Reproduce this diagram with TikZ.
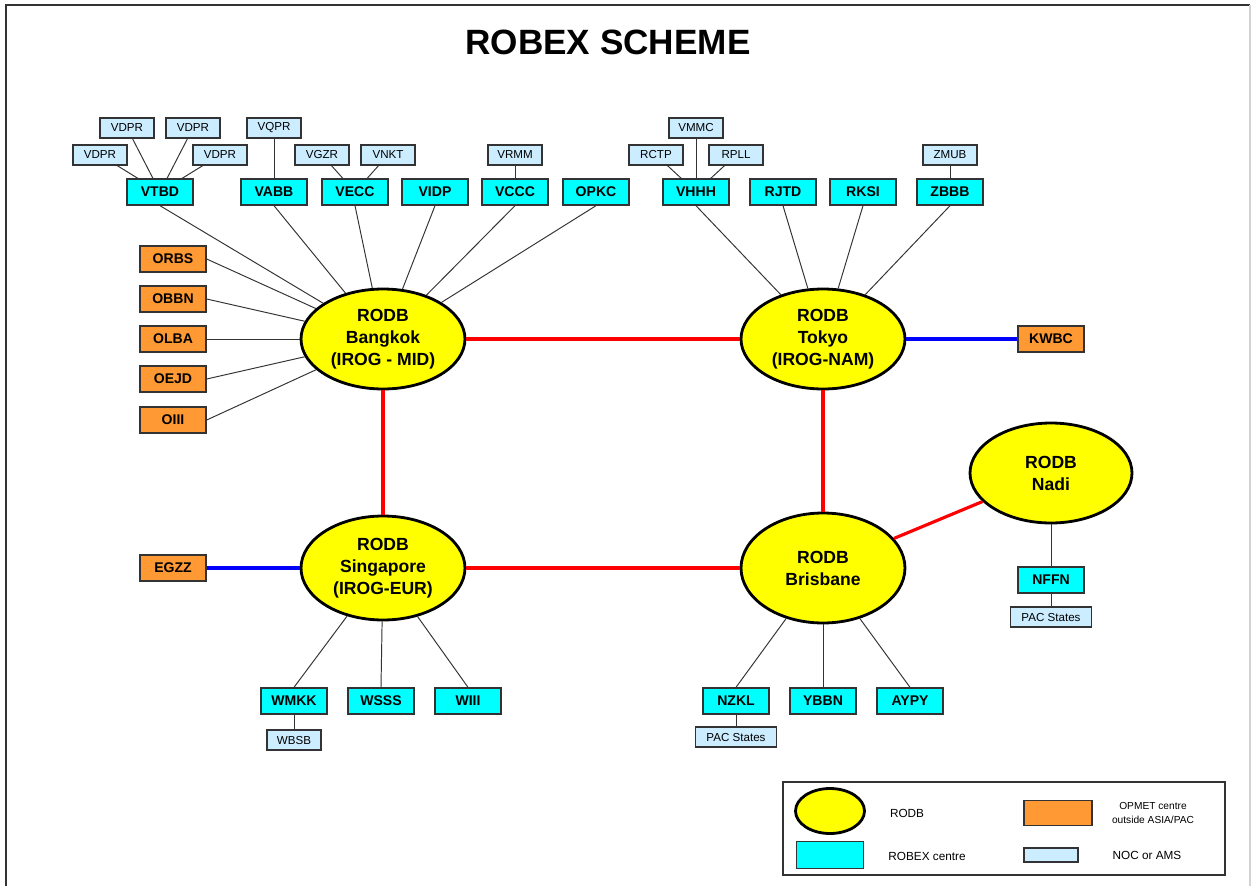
\documentclass[tikz,border=0pt]{standalone}
\usepackage{fontspec}
\setmainfont{Liberation Sans}
\usetikzlibrary{shapes.geometric}
\definecolor{rodbyellow}{RGB}{255,255,0}
\definecolor{robexcyan}{RGB}{0,255,255}
\definecolor{opmetorange}{RGB}{255,153,51}
\definecolor{nocblue}{RGB}{204,236,255}
\definecolor{edgegray}{RGB}{51,51,51}
\begin{document}
\begin{tikzpicture}[x=0.02cm,y=-0.02cm,
  rodb/.style={ellipse,draw=black,line width=1.6pt,fill=rodbyellow,minimum width=3.28cm,minimum height=2cm,inner sep=0pt,align=center,font=\fontsize{10}{12.5}\selectfont\bfseries},
  robex/.style={rectangle,draw=edgegray,line width=0.8pt,fill=robexcyan,minimum width=1.32cm,minimum height=0.52cm,inner sep=0pt,font=\fontsize{8}{9}\selectfont\bfseries},
  opmet/.style={robex,fill=opmetorange},
  noc/.style={rectangle,draw=edgegray,line width=0.7pt,fill=nocblue,minimum width=1.08cm,minimum height=0.4cm,inner sep=0pt,font=\fontsize{6.6}{8}\selectfont},
  legendtext/.style={align=center,inner sep=0pt,font=\fontsize{6.7}{8}\selectfont},
  spoke/.style={edgegray,line width=0.55pt},
  trunk/.style={red,line width=1.8pt},
  link/.style={blue,line width=1.8pt}]
\useasboundingbox (0,0) rectangle (1251,886);
%frame
\draw[edgegray,line width=1.1pt] (6,886)--(6,5)--(1250,5);
\draw[gray!35,line width=0.6pt] (1250,5)--(1250,886);
%title
\node[font=\fontsize{20}{24}\selectfont\bfseries] (title) at (608,42) {ROBEX SCHEME};
%RODB
\node[rodb] (bkk) at (383,339) {RODB\\Bangkok\\(IROG - MID)};
\node[rodb] (tyo) at (823,339) {RODB\\Tokyo\\(IROG-NAM)};
\node[rodb,minimum height=2.08cm] (sin) at (383,568) {RODB\\Singapore\\(IROG-EUR)};
\node[rodb,minimum height=2.2cm] (bne) at (823,568) {RODB\\Brisbane};
\node[rodb,minimum width=3.24cm] (nadi) at (1051,473) {RODB\\Nadi};
%ROBEX centres, top row
\node[robex] (vtbd) at (160,192) {VTBD};
\node[robex] (vabb) at (274,192) {VABB};
\node[robex] (vecc) at (355,192) {VECC};
\node[robex] (vidp) at (435,192) {VIDP};
\node[robex] (vccc) at (515,192) {VCCC};
\node[robex] (opkc) at (596,192) {OPKC};
\node[robex] (vhhh) at (696,192) {VHHH};
\node[robex] (rjtd) at (783,192) {RJTD};
\node[robex] (rksi) at (863,192) {RKSI};
\node[robex] (zbbb) at (950,192) {ZBBB};
%ROBEX centres, bottom row
\node[robex] (wmkk) at (294,701) {WMKK};
\node[robex] (wsss) at (381,701) {WSSS};
\node[robex] (wiii) at (468,701) {WIII};
\node[robex] (nzkl) at (736,701) {NZKL};
\node[robex] (ybbn) at (823,701) {YBBN};
\node[robex] (aypy) at (910,701) {AYPY};
\node[robex] (nffn) at (1051,580) {NFFN};
%OPMET centres outside ASIA/PAC
\node[opmet] (orbs) at (173,259) {ORBS};
\node[opmet] (obbn) at (173,299) {OBBN};
\node[opmet] (olba) at (173,339) {OLBA};
\node[opmet] (oejd) at (173,379) {OEJD};
\node[opmet] (oiii) at (173,420) {OIII};
\node[opmet] (egzz) at (173,568) {EGZZ};
\node[opmet] (kwbc) at (1051,339) {KWBC};
%NOC or AMS
\node[noc] (vdpra) at (127,128) {VDPR};
\node[noc] (vdprb) at (193,128) {VDPR};
\node[noc] (vdprc) at (100,155) {VDPR};
\node[noc] (vdprd) at (220,155) {VDPR};
\node[noc] (vqpr) at (274,128) {VQPR};
\node[noc] (vgzr) at (322,155) {VGZR};
\node[noc] (vnkt) at (388,155) {VNKT};
\node[noc] (vrmm) at (515,155) {VRMM};
\node[noc] (vmmc) at (696,128) {VMMC};
\node[noc] (rctp) at (656,155) {RCTP};
\node[noc] (rpll) at (736,155) {RPLL};
\node[noc] (zmub) at (950,155) {ZMUB};
\node[noc] (wbsb) at (294,740) {WBSB};
\node[noc,minimum width=1.62cm] (pacb) at (736,737) {PAC States};
\node[noc,minimum width=1.62cm] (pacn) at (1051,617) {PAC States};
%NOC to ROBEX
\draw[spoke] (vdprc) -- (vtbd);
\draw[spoke] (vdpra) -- (vtbd);
\draw[spoke] (vdprb) -- (vtbd);
\draw[spoke] (vdprd) -- (vtbd);
\draw[spoke] (vqpr) -- (vabb);
\draw[spoke] (vgzr) -- (vecc);
\draw[spoke] (vnkt) -- (vecc);
\draw[spoke] (vrmm) -- (vccc);
\draw[spoke] (vmmc) -- (vhhh);
\draw[spoke] (rctp) -- (vhhh);
\draw[spoke] (rpll) -- (vhhh);
\draw[spoke] (zmub) -- (zbbb);
\draw[spoke] (wmkk) -- (wbsb);
\draw[spoke] (nzkl) -- (pacb);
\draw[spoke] (nffn) -- (pacn);
\draw[spoke] (nadi) -- (nffn);
%centres to RODB
\foreach \c in {vtbd,vabb,vecc,vidp,vccc,opkc}
  \draw[spoke] (\c.south) -- (bkk);
\foreach \c in {orbs,obbn,olba,oejd,oiii}
  \draw[spoke] (\c.east) -- (bkk);
\foreach \c in {vhhh,rjtd,rksi,zbbb}
  \draw[spoke] (\c.south) -- (tyo);
\foreach \c in {wmkk,wsss,wiii}
  \draw[spoke] (\c.north) -- (sin);
\foreach \c in {nzkl,ybbn,aypy}
  \draw[spoke] (\c.north) -- (bne);
%RODB links
\draw[trunk] (bkk) -- (tyo);
\draw[trunk] (bkk) -- (sin);
\draw[trunk] (sin) -- (bne);
\draw[trunk] (tyo) -- (bne);
\draw[trunk] (bne) -- (nadi);
\draw[link] (tyo) -- (kwbc);
\draw[link] (egzz) -- (sin);
%legend
\draw[edgegray,line width=0.6pt] (783,782) rectangle (1225,875);
\node[rodb,minimum width=1.38cm,minimum height=0.9cm] (keyrodb) at (830,811) {};
\node[robex,minimum width=1.34cm,minimum height=0.54cm] (keyrobex) at (830,855) {};
\node[opmet,minimum width=1.36cm,minimum height=0.5cm] (keyopmet) at (1058,813) {};
\node[noc,minimum width=1.08cm,minimum height=0.28cm] (keynoc) at (1051,855) {};
\node[legendtext] (txtrodb) at (907,813) {RODB};
\node[legendtext] (txtrobex) at (927,856) {ROBEX centre};
\node[legendtext,font=\fontsize{5.8}{8}\selectfont] (txtopmet) at (1153,813) {OPMET centre\\outside ASIA/PAC};
\node[legendtext] (txtnoc) at (1147,855) {NOC or AMS};
\end{tikzpicture}
\end{document}
